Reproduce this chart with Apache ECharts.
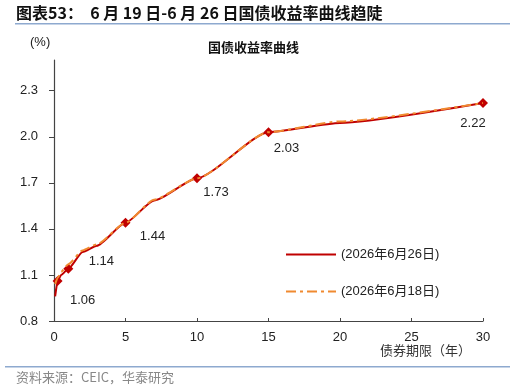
<!DOCTYPE html>
<html>
<head>
<meta charset="utf-8">
<script src="https://cdn.jsdelivr.net/npm/echarts@6/dist/echarts.min.js"></script>
<style>
  html, body { margin: 0; padding: 0; background: #fff; }
  #chart { width: 515px; height: 392px; }
</style>
</head>
<body>
<div id="chart"></div>
<script>
// 债券期限（年）
const tenors = [0.08, 0.25, 0.5, 1, 2, 3, 5, 7, 10, 15, 20, 30];
// 2026年6月26日 收益率
const yield0626 = [0.96, 1.06, 1.10, 1.14, 1.25, 1.29, 1.44, 1.585, 1.73, 2.03, 2.09, 2.22];
// 2026年6月18日 收益率
const yield0618 = [1.04, 1.08, 1.12, 1.17, 1.26, 1.30, 1.44, 1.59, 1.73, 2.03, 2.10, 2.22];
// 标注点
const markedTenors = [0.25, 1, 5, 10, 15, 30];
const xTicks = [0, 5, 10, 15, 20, 25, 30];
const yTicks = [0.8, 1.1, 1.4, 1.7, 2.0, 2.3];

const seriesNames = ['(2026年6月26日)', '(2026年6月18日)'];
const textFont = "'Liberation Sans', 'Noto Sans CJK SC', sans-serif";

// 数据标签相对标记中心的偏移
const labelOffset = { 0.25: [25, 19], 1: [33, -7], 5: [27, 14], 10: [19, 14], 15: [18, 16], 30: [-10, 20] };

const chart = echarts.init(document.getElementById('chart'));

const redData = tenors.map((t, i) => {
  const marked = markedTenors.includes(t);
  return {
    value: [t, yield0626[i]],
    symbol: marked ? 'diamond' : 'none',
    symbolSize: 10,
    label: {
      show: marked,
      position: 'inside',
      offset: labelOffset[t] || [0, 0],
      formatter: p => p.value[1].toFixed(2),
      color: '#222',
      fontSize: 13,
      fontFamily: textFont
    }
  };
});

const option = {
  animation: false,
  textStyle: { fontFamily: textFont },
  grid: { left: 54, right: 32, top: 60, bottom: 71 },
  graphic: [
    { type: 'text', left: 16, top: 5, style: { text: '图表53：  6 月 19 日-6 月 26 日国债收益率曲线趋陡', font: "bold 16px 'Noto Sans CJK SC', sans-serif", fill: '#111' } },
    { type: 'rect', shape: { x: 15, y: 23, width: 495, height: 1.5 }, style: { fill: '#8EA9CF' } },
    { type: 'text', left: 30, top: 36, style: { text: '(%)', font: "13px 'Liberation Sans', sans-serif", fill: '#222' } },
    { type: 'text', left: 208, top: 41, style: { text: '国债收益率曲线', font: "bold 13px 'Noto Sans CJK SC', sans-serif", fill: '#111' } },
    { type: 'text', left: 380, top: 344, style: { text: '债券期限（年）', font: "13px 'Noto Sans CJK SC', sans-serif", fill: '#333' } },
    { type: 'rect', shape: { x: 5, y: 366, width: 505, height: 1.5 }, style: { fill: '#8EA9CF' } },
    { type: 'text', left: 16, top: 371, style: { text: '资料来源：CEIC，华泰研究', font: "13px 'Noto Sans CJK SC', sans-serif", fill: '#888' } }
  ],
  legend: {
    data: seriesNames,
    orient: 'vertical',
    left: 280,
    top: 243,
    itemWidth: 50,
    itemHeight: 10,
    itemGap: 24,
    itemStyle: { opacity: 0 },
    textStyle: { color: '#222', fontSize: 13, fontFamily: textFont }
  },
  xAxis: {
    type: 'value',
    min: 0,
    max: 30,
    interval: 5,
    axisLine: { lineStyle: { color: '#444', width: 1.2 } },
    axisTick: { inside: true, length: 3, lineStyle: { color: '#444' } },
    axisLabel: { color: '#222', fontSize: 13, margin: 10, customValues: xTicks },
    splitLine: { show: false }
  },
  yAxis: {
    type: 'value',
    min: 0.8,
    max: 2.5,
    interval: 0.3,
    axisLine: { show: true, lineStyle: { color: '#444', width: 1.2 } },
    axisTick: { show: true, length: 5, lineStyle: { color: '#444' }, customValues: yTicks },
    axisLabel: { color: '#222', fontSize: 13, margin: 16, formatter: v => v.toFixed(1), customValues: yTicks },
    splitLine: { show: false }
  },
  series: [
    {
      name: seriesNames[0],
      type: 'line',
      data: redData,
      smooth: 0.2,
      smoothMonotone: 'x',
      symbol: 'none',
      z: 2,
      lineStyle: { color: '#C00000', width: 2 },
      itemStyle: { color: '#C00000' }
    },
    {
      name: seriesNames[1],
      type: 'line',
      data: tenors.map((t, i) => [t, yield0618[i]]),
      smooth: 0.2,
      smoothMonotone: 'x',
      symbol: 'none',
      z: 3,
      lineStyle: { color: '#F08A30', width: 2, type: [10, 4, 3, 4] },
      itemStyle: { color: '#F08A30' }
    }
  ]
};

chart.setOption(option);
</script>
</body>
</html>
